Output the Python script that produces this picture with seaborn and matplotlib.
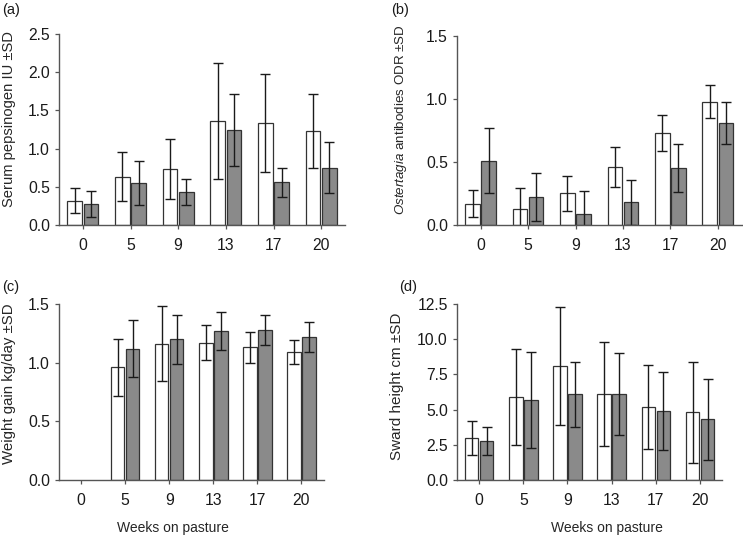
import numpy as np
import pandas as pd
import matplotlib
matplotlib.use('Agg')
import matplotlib.pyplot as plt
import seaborn as sns

sns.set_style("ticks")
plt.rcParams['font.family'] = ['Liberation Sans', 'DejaVu Sans']
plt.rcParams['mathtext.fontset'] = 'custom'
plt.rcParams['mathtext.it'] = 'Liberation Sans:italic'
plt.rcParams['mathtext.rm'] = 'Liberation Sans'

# semanas e grupos
semanas = ['0', '5', '9', '13', '17', '20']
grupos = ['A', 'B']

# (a) pepsinogenio
pep_a = [0.32, 0.63, 0.73, 1.36, 1.33, 1.23]
pep_a_sd = [0.16, 0.32, 0.39, 0.76, 0.64, 0.48]
pep_b = [0.27, 0.55, 0.43, 1.24, 0.56, 0.75]
pep_b_sd = [0.17, 0.29, 0.17, 0.47, 0.19, 0.33]

# (b) anticorpos Ostertagia
ost_a = [0.17, 0.13, 0.25, 0.46, 0.73, 0.98]
ost_a_sd = [0.11, 0.16, 0.14, 0.16, 0.14, 0.13]
ost_b = [0.51, 0.22, 0.09, 0.18, 0.45, 0.81]
ost_b_sd = [0.26, 0.19, 0.18, 0.18, 0.19, 0.17]

# (c) ganho de peso (sem dados na semana 0)
peso_a = [np.nan, 0.96, 1.16, 1.17, 1.13, 1.09]
peso_a_sd = [np.nan, 0.24, 0.32, 0.15, 0.13, 0.10]
peso_b = [np.nan, 1.12, 1.20, 1.27, 1.28, 1.22]
peso_b_sd = [np.nan, 0.24, 0.21, 0.16, 0.13, 0.13]

# (d) altura do pasto
alt_a = [3.0, 5.9, 8.1, 6.1, 5.2, 4.8]
alt_a_sd = [1.2, 3.4, 4.2, 3.7, 3.0, 3.6]
alt_b = [2.8, 5.7, 6.1, 6.1, 4.9, 4.3]
alt_b_sd = [1.0, 3.4, 2.3, 2.9, 2.8, 2.9]


def monta_df(va, sa, vb, sb):
    linhas = []
    for i, s in enumerate(semanas):
        linhas.append({'semana': s, 'grupo': 'A', 'valor': va[i], 'sd': sa[i]})
        linhas.append({'semana': s, 'grupo': 'B', 'valor': vb[i], 'sd': sb[i]})
    return pd.DataFrame(linhas)


def painel(ax, df, yticks, ylabel, ylab_size, ylab_xy, xlabel=None, xlabel_pos=0.5):
    sns.barplot(data=df, x='semana', y='valor', hue='grupo', order=semanas,
                hue_order=grupos, palette=['white', '#8a8a8a'], width=0.68,
                gap=0.1, errorbar=None, edgecolor='#333333', linewidth=0.9,
                legend=False, ax=ax)
    # barras de erro nas posicoes das barras
    barras = [p for p in ax.patches if np.isfinite(p.get_height())]
    barras = sorted(barras, key=lambda p: p.get_x())
    dados = df.dropna(subset=['valor'])
    for p, (_, r) in zip(barras, dados.iterrows()):
        ax.errorbar(p.get_x() + p.get_width() / 2, r['valor'], yerr=r['sd'],
                    fmt='none', ecolor='#1a1a1a', elinewidth=1.0, capsize=3.5,
                    capthick=1.0)
    ax.set_xlim(-0.5, 5.5)
    ax.set_ylim(yticks[0], yticks[-1])
    ax.set_yticks(yticks)
    ax.set_yticklabels([f'{t:.1f}' for t in yticks])
    ax.set_ylabel(ylabel, fontsize=ylab_size)
    ax.yaxis.set_label_coords(*ylab_xy)
    if xlabel:
        ax.set_xlabel(xlabel, fontsize=10)
        ax.xaxis.set_label_coords(xlabel_pos, -0.235)
    else:
        ax.set_xlabel('')
    ax.tick_params(labelsize=11.3, length=3, width=0.9, color='#555555',
                   labelcolor='#1a1a1a')
    ax.tick_params(axis='x', pad=6)
    for lado in ['left', 'bottom']:
        ax.spines[lado].set_color('#555555')
        ax.spines[lado].set_linewidth(1.0)
    sns.despine(ax=ax)


fig = plt.figure(figsize=(7.43, 5.37), dpi=100)
ax_a = fig.add_axes([0.0794, 0.581, 0.385, 0.356])
ax_b = fig.add_axes([0.615, 0.581, 0.383, 0.352])
ax_c = fig.add_axes([0.0794, 0.106, 0.356, 0.328])
ax_d = fig.add_axes([0.615, 0.106, 0.357, 0.328])

painel(ax_a, monta_df(pep_a, pep_a_sd, pep_b, pep_b_sd),
       [0, 0.5, 1.0, 1.5, 2.0, 2.5], 'Serum pepsinogen IU ±SD',
       10.6, (-0.15, 0.555))
painel(ax_b, monta_df(ost_a, ost_a_sd, ost_b, ost_b_sd),
       [0, 0.5, 1.0, 1.5], r'$\it{Ostertagia}$ antibodies ODR ±SD',
       9.6, (-0.168, 0.56))
painel(ax_c, monta_df(peso_a, peso_a_sd, peso_b, peso_b_sd),
       [0, 0.5, 1.0, 1.5], 'Weight gain kg/day ±SD',
       10.8, (-0.163, 0.545), xlabel='Weeks on pasture', xlabel_pos=0.43)
painel(ax_d, monta_df(alt_a, alt_a_sd, alt_b, alt_b_sd),
       [0, 2.5, 5.0, 7.5, 10.0, 12.5], 'Sward height cm ±SD',
       11.0, (-0.2, 0.53), xlabel='Weeks on pasture', xlabel_pos=0.566)

for txt, x, y in [('(a)', 0.003, 0.995), ('(b)', 0.527, 0.995),
                  ('(c)', 0.003, 0.478), ('(d)', 0.537, 0.478)]:
    fig.text(x, y, txt, ha='left', va='top', fontsize=10.5, color='#1a1a1a')

fig.savefig('out.png', dpi=100)
